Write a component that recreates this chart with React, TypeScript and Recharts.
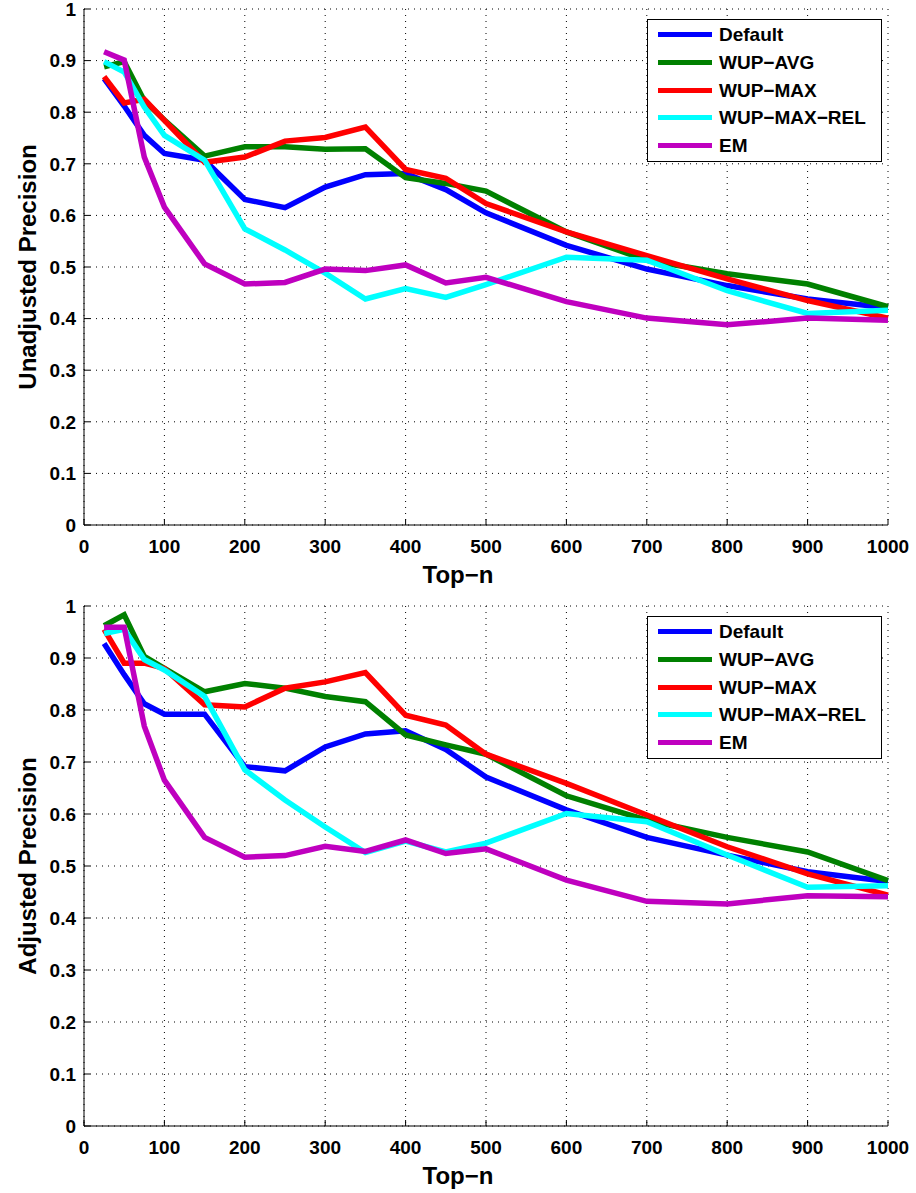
import {
	CartesianGrid,
	Label,
	Legend,
	Line,
	LineChart,
	XAxis,
	YAxis,
} from "recharts"

// x positions (Top-n)
const topN = [25, 50, 75, 100, 150, 200, 250, 300, 350, 400, 450, 500, 600, 700, 800, 900, 1000]

// upper panel: unadjusted precision
const unadjDefault = [0.865, 0.812, 0.755, 0.72, 0.707, 0.631, 0.615, 0.655, 0.679, 0.681, 0.65, 0.605, 0.542, 0.496, 0.464, 0.438, 0.421]
const unadjAvg = [0.888, 0.898, 0.822, 0.785, 0.715, 0.733, 0.733, 0.728, 0.729, 0.673, 0.662, 0.647, 0.568, 0.513, 0.487, 0.467, 0.423]
const unadjMax = [0.869, 0.818, 0.825, 0.784, 0.703, 0.713, 0.744, 0.751, 0.771, 0.689, 0.672, 0.623, 0.568, 0.522, 0.477, 0.435, 0.401]
const unadjRel = [0.898, 0.878, 0.81, 0.755, 0.707, 0.574, 0.533, 0.488, 0.438, 0.458, 0.441, 0.466, 0.519, 0.513, 0.454, 0.41, 0.416]
const unadjEm = [0.917, 0.901, 0.713, 0.616, 0.506, 0.467, 0.47, 0.496, 0.493, 0.504, 0.469, 0.48, 0.433, 0.401, 0.388, 0.401, 0.397]

// lower panel: adjusted precision
const adjDefault = [0.928, 0.868, 0.812, 0.792, 0.792, 0.691, 0.683, 0.729, 0.754, 0.76, 0.724, 0.671, 0.608, 0.555, 0.521, 0.489, 0.47]
const adjAvg = [0.962, 0.983, 0.903, 0.88, 0.835, 0.851, 0.842, 0.826, 0.816, 0.752, 0.733, 0.715, 0.635, 0.588, 0.555, 0.527, 0.472]
const adjMax = [0.955, 0.89, 0.89, 0.88, 0.81, 0.806, 0.842, 0.854, 0.872, 0.79, 0.771, 0.715, 0.659, 0.598, 0.537, 0.485, 0.444]
const adjRel = [0.947, 0.955, 0.897, 0.877, 0.826, 0.685, 0.627, 0.575, 0.526, 0.548, 0.527, 0.544, 0.601, 0.585, 0.521, 0.459, 0.462]
const adjEm = [0.959, 0.959, 0.769, 0.665, 0.555, 0.517, 0.52, 0.538, 0.528, 0.55, 0.524, 0.533, 0.473, 0.432, 0.427, 0.443, 0.441]

const xTicks = [0, 100, 200, 300, 400, 500, 600, 700, 800, 900, 1000]
const yTicks = [0, 0.1, 0.2, 0.3, 0.4, 0.5, 0.6, 0.7, 0.8, 0.9, 1]

const seriesNames = ["Default", "WUP-AVG", "WUP-MAX", "WUP-MAX-REL", "EM"]
const seriesColors = ["#0000ff", "#008000", "#ff0000", "#00ffff", "#bf00bf"]

const FONT = "'Liberation Sans', Arial, Helvetica, sans-serif"

function buildRows(series: number[][]) {
	return topN.map((n, i) => {
		const row: Record<string, number> = { n }
		series.forEach((s, k) => {
			row[`s${k}`] = s[i]
		})
		return row
	})
}

const upperRows = buildRows([unadjDefault, unadjAvg, unadjMax, unadjRel, unadjEm])
const lowerRows = buildRows([adjDefault, adjAvg, adjMax, adjRel, adjEm])

const tickStyle = { fontSize: 19, fontWeight: 700, fill: "#000", fontFamily: FONT }

const yFmt = (v: number) => (v === 0 || v === 1 ? String(v) : v.toFixed(1))

function LegendBox(props: any) {
	// keep plotting order, not alphabetical
	const items = [...(props.payload ?? [])].sort(
		(a: any, b: any) => seriesNames.indexOf(a.value) - seriesNames.indexOf(b.value)
	)
	return (
		<div
			style={{
				width: 235,
				height: 143,
				border: "1px solid #000",
				background: "#fff",
				boxSizing: "border-box",
				paddingTop: 1,
			}}
		>
			{items.map((it: any) => (
				<div
					key={it.value}
					style={{ display: "flex", alignItems: "center", height: 27.7 }}
				>
					<div
						style={{
							marginLeft: 10,
							width: 54,
							height: 5,
							background: it.color,
						}}
					/>
					<span
						style={{
							marginLeft: 7,
							fontFamily: FONT,
							fontWeight: 700,
							fontSize: 19,
							color: "#000",
							lineHeight: 1,
						}}
					>
						{it.value.replace(/-/g, "\u2212")}
					</span>
				</div>
			))}
		</div>
	)
}

function PrecisionChart({
	rows,
	yTitle,
	height,
	plotHeight,
}: {
	rows: Record<string, number>[]
	yTitle: string
	height: number
	plotHeight: number
}) {
	const top = 9
	const plotMid = top + plotHeight / 2
	const xAxisHeight = height - top - plotHeight
	return (
		<LineChart
			width={916}
			height={height}
			data={rows}
			margin={{ top, right: 28, left: 24, bottom: 0 }}
		>
			<CartesianGrid
				stroke="#000"
				strokeDasharray="1 5"
				strokeWidth={1}
				horizontalValues={yTicks}
				verticalValues={xTicks}
			/>
			<XAxis
				dataKey="n"
				type="number"
				domain={[0, 1000]}
				ticks={xTicks}
				interval={0}
				height={xAxisHeight}
				stroke="#000"
				tickSize={-6}
				tickMargin={21}
				tick={tickStyle}
			>
				<Label
					content={() => (
						<text
							x={458}
							y={top + plotHeight + 58}
							textAnchor="middle"
							fontFamily={FONT}
							fontWeight={700}
							fontSize={24}
							fill="#000"
						>
							Top{"\u2212"}n
						</text>
					)}
				/>
			</XAxis>
			<XAxis
				xAxisId="top"
				orientation="top"
				dataKey="n"
				type="number"
				domain={[0, 1000]}
				ticks={xTicks}
				height={0}
				stroke="#000"
				tickSize={-6}
				tick={false}
			/>
			<YAxis
				type="number"
				domain={[0, 1]}
				ticks={yTicks}
				interval={0}
				width={60}
				stroke="#000"
				tickSize={-6}
				tickMargin={14}
				tick={tickStyle}
				tickFormatter={yFmt}
			>
				<Label
					content={() => (
						<text
							x={36}
							y={plotMid}
							transform={`rotate(-90 36 ${plotMid})`}
							textAnchor="middle"
							fontFamily={FONT}
							fontWeight={700}
							fontSize={24}
							fill="#000"
						>
							{yTitle}
						</text>
					)}
				/>
			</YAxis>
			<YAxis
				yAxisId="right"
				orientation="right"
				type="number"
				domain={[0, 1]}
				ticks={yTicks}
				width={0}
				stroke="#000"
				tickSize={-6}
				tick={false}
			/>
			<Legend
				layout="vertical"
				align="center"
				verticalAlign="middle"
				content={<LegendBox />}
				wrapperStyle={{ left: 647, top: 19, width: 235, height: 143 }}
			/>
			{seriesNames.map((name, k) => (
				<Line
					key={name}
					type="linear"
					dataKey={`s${k}`}
					name={name}
					stroke={seriesColors[k]}
					strokeWidth={5.5}
					dot={false}
					activeDot={false}
					isAnimationActive={false}
				/>
			))}
		</LineChart>
	)
}

export default function App() {
	return (
		<div
			style={{
				position: "absolute",
				left: 0,
				top: 0,
				width: 916,
				height: 1193,
				background: "#fff",
			}}
		>
			<div style={{ position: "absolute", left: 0, top: 0 }}>
				<PrecisionChart
					rows={upperRows}
					yTitle="Unadjusted Precision"
					height={600}
					plotHeight={516}
				/>
			</div>
			<div style={{ position: "absolute", left: 0, top: 597 }}>
				<PrecisionChart
					rows={lowerRows}
					yTitle="Adjusted Precision"
					height={596}
					plotHeight={520}
				/>
			</div>
		</div>
	)
}
